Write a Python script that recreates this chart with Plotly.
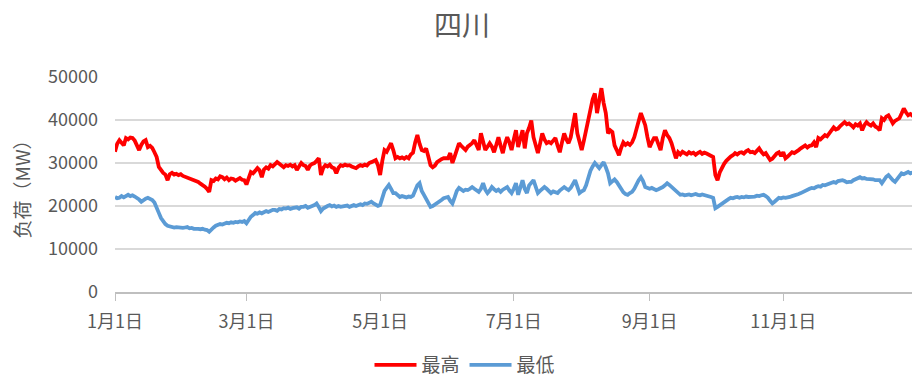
import pandas as pd
import plotly.graph_objects as go

title_text = "四川"
y_title = "负荷（MW）"
series_names = ["最高", "最低"]
tick_dates = ["2020-01-01", "2020-03-01", "2020-05-01", "2020-07-01", "2020-09-01", "2020-11-01"]
tick_labels = ["1月1日", "3月1日", "5月1日", "7月1日", "9月1日", "11月1日"]

max_load = [
    32600, 34500, 35300, 34800, 34100, 35800, 35500, 35900, 35800, 35200,
    34000, 33000, 34200, 35000, 35300, 33700, 34000, 33500, 32500, 31400,
    29100, 28200, 27700, 27300, 26000, 27400, 27700, 27300, 27500, 27200,
    27400, 27000, 26800, 26600, 26500, 26200, 26000, 25800, 25600, 25200,
    24900, 24500, 24000, 23300, 26000, 25800, 26400, 26200, 26900, 26700,
    26200, 26600, 26000, 26400, 26300, 25900, 26200, 26500, 26100, 26000,
    25000, 26500, 27900, 27600, 28200, 28800, 28300, 26700, 28500, 29000,
    28700, 29500, 29200, 29800, 30200, 29800, 29500, 29000, 29500, 29300,
    29600, 29200, 29500, 28400, 29200, 30000, 29500, 29300, 28400, 29400,
    29800, 30000, 30500, 31100, 27200, 28800, 29500, 29200, 29600, 29000,
    28800, 27600, 28900, 29500, 29300, 29600, 29400, 29500, 29200, 29100,
    28800, 29200, 29500, 29300, 29600, 29400, 30000, 30200, 30500, 30700,
    29500, 27200, 30500, 33000, 32600, 33500, 34600, 33000, 31100, 31400,
    31100, 31300, 31000, 31400, 31100, 32000, 32400, 34800, 36500, 34500,
    33000, 32800, 33400, 31500, 29500, 29000, 29400, 30200, 30600, 30900,
    31100, 31200, 31100, 32300, 30000, 31500, 33000, 34600, 34000, 33400, 33000,
    33800, 34100, 34600, 35300, 34000, 33000, 36900, 35000, 33000, 33800,
    34600, 33800, 32500, 34200, 36000, 34000, 32300, 34500, 36000, 34800,
    33000, 35500, 37600, 33700, 35800, 37600, 33400, 36900, 38200, 39900,
    36000, 34000, 32300, 34500, 36900, 35500, 34600, 34900, 34600, 35200,
    35800, 34000, 32500, 34800, 36900, 35500, 34600, 36000, 38500, 41600,
    36900, 35000, 33000, 35200, 37600, 40500, 43000, 44800, 46200, 41600,
    44500, 47400, 44000, 41600, 36900, 37600, 37200, 34100, 33000, 31800,
    33500, 34800, 34200, 34600, 34200, 34800, 36000, 38000, 39800, 41600,
    40200, 38800, 36000, 33700, 34800, 35800, 35800, 34500, 33000, 35800,
    37600, 36500, 35800, 34600, 33000, 31100, 32500, 32000, 32600, 32300,
    32000, 32500, 32200, 32400, 31900, 32300, 32600, 32100, 32400, 32200,
    32000, 31800, 31400, 27200, 26000, 27800, 29000, 29800, 30500, 31100,
    31500, 31800, 32300, 32000, 32400, 32500, 32200, 32700, 33000, 32500,
    32600, 32300, 32800, 33400, 32600, 32000, 32300, 31500, 30700, 31000,
    31800, 32200, 32500, 31600, 32500, 31100, 31500, 32000, 32500, 32300,
    32800, 33000, 33400, 33800, 34100, 33600, 34000, 34100, 34800, 33700,
    35800, 35500, 36000, 36500, 36200, 36900, 37500, 38300, 37800, 38000,
    38600, 39000, 39500, 39000, 39200, 38800, 38300, 39000, 38700, 39200,
    37600, 38800, 39500, 39000, 38700, 39200, 38500, 38200, 37600, 40400,
    40000, 40800, 41100, 40200, 39200, 39800, 40200, 40400, 41500, 42700,
    41800, 41100, 41400, 41000, 41500,
]

min_load = [
    22100, 21800, 21900, 22300, 22000, 22400, 22600, 22300, 22500, 22200,
    21900, 21500, 21000, 21400, 21700, 21900, 21600, 21400, 20800, 19800,
    18400, 17200, 16300, 15800, 15400, 15200, 15100, 15000, 15100, 15000,
    15100, 14900, 15000, 15100, 14800, 14900, 14700, 14800, 14700, 14600,
    14700, 14500, 14400, 14000, 14600, 15000, 15400, 15600, 15800, 15700,
    15900, 16100, 16000, 16200, 16100, 16300, 16200, 16400, 16300, 16500,
    16000, 16800, 17500, 17900, 18400, 18200, 18500, 18300, 18600, 18800,
    18600, 18900, 19100, 19100, 18900, 19300, 19200, 19500, 19400, 19600,
    19300, 19500, 19500, 19700, 19400, 19800, 19800, 20000, 19600, 19700,
    20000, 20200, 20600, 19800, 18800, 19400, 19800, 20000, 20200, 19900,
    20100, 19800, 20000, 19800, 19900, 20000, 20100, 19800, 20000, 20200,
    20000, 20300, 20400, 20200, 20600, 20500, 20800, 21000, 20600, 20200,
    20000, 20200, 22100, 23500, 24200, 24900, 24000, 23000, 23000, 22500,
    22100, 22300, 22100, 22000, 22200, 22100, 22400, 23500, 24800, 25300,
    23500, 22600, 21500, 20500, 19800, 20000, 20300, 20600, 21000, 21400,
    21800, 21900, 22100, 21200, 20600, 22000, 23500, 24200, 23900, 23500, 23800,
    23700, 24000, 24400, 24000, 23600, 23300, 24000, 25300, 23800, 23000,
    23600, 24400, 23900, 23500, 23800, 23300, 23800, 24000, 24400, 23600,
    23000, 24000, 25300, 22600, 24500, 26000, 24000, 23000, 24800, 25400,
    26000, 24500, 23000, 23500, 24000, 24400, 24000, 23600, 23000, 23400,
    23200, 23000, 23600, 24000, 24400, 24000, 23700, 24200, 25200, 26000,
    24500, 23000, 23400, 23700, 24800, 26700, 28200, 29200, 30000, 29400,
    28800, 29500, 30200, 29000, 27600, 25300, 25800, 26200, 25600, 24800,
    23700, 23200, 22800, 22600, 23000, 23300, 24000, 25300, 26000, 26700,
    25800, 24400, 24200, 24000, 24200, 24000, 23700, 23900, 24100, 24400,
    24800, 25300, 24900, 24400, 23800, 23300, 22800, 22600, 22700, 22500,
    22600, 22700, 22500, 22600, 22800, 22600, 22500, 22700, 22600, 22500,
    22300, 22100, 21900, 19500, 19800, 20200, 20500, 20900, 21300, 21600,
    21900, 21800, 22000, 22100, 21900, 22100, 22000, 22200, 22100, 22100,
    22300, 22200, 22400, 22300, 22500, 22600, 22300, 21900, 21200, 20600,
    21000, 21500, 21900, 21800, 22000, 21900, 21900, 22100, 22300, 22400,
    22600, 22800, 23000, 23300, 23500, 23700, 24000, 24200, 24100, 24400,
    24600, 24500, 24900, 24800, 25000, 25200, 25400, 25600, 25400, 25800,
    25900, 26000, 25800, 25500, 25600, 25600, 26000, 26300, 26500, 26700,
    26400, 26500, 26300, 26300, 26100, 26200, 26000, 26100, 26000, 25300,
    26200, 26800, 27200, 26500, 26000, 25600, 26400, 27000, 27600, 27400,
    27700, 27900, 27600, 27800, 28000,
]

dates_max = pd.date_range("2020-01-01", periods=len(max_load), freq="D")
dates_min = pd.date_range("2020-01-01", periods=len(min_load), freq="D")

font_family = "Noto Sans CJK SC, Noto Sans, sans-serif"
text_color = "#595959"

fig = go.Figure()
fig.add_trace(go.Scatter(x=dates_max, y=max_load, mode="lines", name=series_names[0],
                         line=dict(color="#FF0000", width=3.8)))
fig.add_trace(go.Scatter(x=dates_min, y=min_load, mode="lines", name=series_names[1],
                         line=dict(color="#5B9BD5", width=3.8)))

fig.update_layout(
    width=912, height=376,
    margin=dict(l=115, r=0, t=77, b=84, autoexpand=False),
    paper_bgcolor="white", plot_bgcolor="white",
    font=dict(family=font_family, color=text_color, size=18),
    title=dict(text=title_text, x=462 / 912, xref="container", xanchor="center",
               y=1 - 26 / 376, yref="container", yanchor="middle",
               font=dict(size=28, color=text_color)),
    legend=dict(orientation="h", xref="container", yref="container",
                x=465 / 912, xanchor="center", y=1 - 365 / 376, yanchor="middle",
                font=dict(size=19, color=text_color), itemwidth=42,
                bgcolor="rgba(0,0,0,0)"),
    showlegend=True,
)

fig.update_xaxes(
    range=["2020-01-01", "2020-12-29 18:00"],
    tickmode="array", tickvals=tick_dates, ticktext=tick_labels,
    showgrid=False, showline=True, linecolor="#BFBFBF", linewidth=1.5,
    ticks="outside", ticklen=7, tickcolor="#BFBFBF",
    tickfont=dict(size=18, color=text_color),
    ticklabelstandoff=6, automargin=False,
)
fig.update_yaxes(
    range=[0, 50000], dtick=10000, tickformat="d",
    showgrid=True, gridcolor="#D9D9D9", gridwidth=1.5,
    zeroline=False, showline=False,
    tickfont=dict(size=18, color=text_color),
    ticklabelstandoff=16, automargin=False,
    title=dict(text=y_title, font=dict(size=19, color=text_color), standoff=12),
)

fig.write_html(
    "out.html",
    config={"displayModeBar": False},
    post_script="document.body.style.margin='0';document.body.style.overflow='hidden';",
)
